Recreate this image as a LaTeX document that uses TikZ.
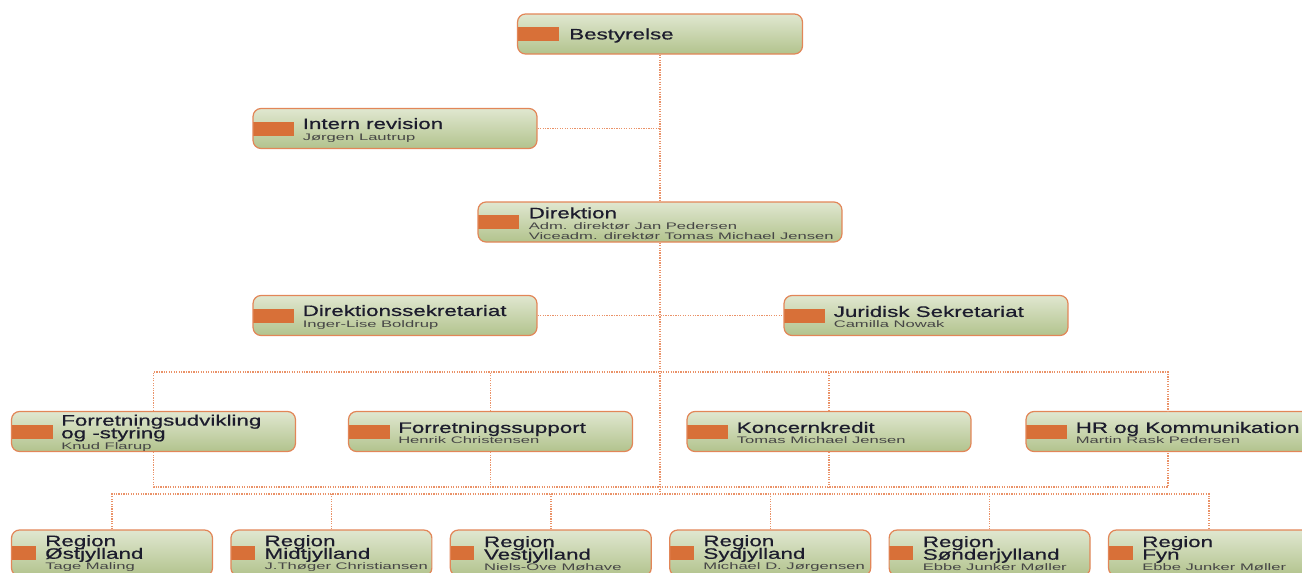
\documentclass[tikz,border=0pt]{standalone}
\usepackage{fontspec}
\newfontfamily\orgtitlefont[FakeStretch=1.48,FakeBold=0.6]{Liberation Sans}
\newfontfamily\orgsubfont[FakeStretch=1.75]{Liberation Sans}
\definecolor{orgborder}{RGB}{226,134,88}
\definecolor{boxtop}{RGB}{224,231,208}
\definecolor{boxbottom}{RGB}{178,195,141}
\definecolor{orgorange}{RGB}{216,112,56}
\definecolor{orgdot}{RGB}{234,146,104}
\definecolor{titleink}{RGB}{28,28,45}
\definecolor{subink}{RGB}{70,70,70}
\newcommand\orgtitlesize{\orgtitlefont\fontsize{8.6}{5.8}\selectfont\lineskiplimit-10pt\relax}
\newcommand\orgsub[1]{{\orgsubfont\fontsize{5.4}{5.8}\selectfont\color{subink}#1}}
\begin{document}
\begin{tikzpicture}[x=0.02cm, y=-0.02cm,
    orgbox/.style={draw=orgborder, line width=0.7pt, rounded corners=0.16cm,
      top color=boxtop, bottom color=boxbottom, minimum height=0.8cm, inner sep=0pt,
      path picture={\fill[orgorange, sharp corners] ([yshift=0.14cm]path picture bounding box.west) rectangle ++(#1,14);}},
    orgbox/.default=41,
    orgtext/.style={anchor=west, inner sep=0pt, align=left, text=titleink, font=\orgtitlesize, yshift=-0.03cm},
    orgline/.style={orgdot, line width=0.8pt, dash pattern=on 0.7pt off 0.7pt}]
    \useasboundingbox (0,0) rectangle (1302,572);

    % top of the tree
    \node[orgbox, minimum width=5.7cm] (best) at (660,34) {};
    \node[orgtext] (best-txt) at ([xshift=1.04cm]best.west) {Bestyrelse};
    \node[orgbox, minimum width=5.68cm] (intern) at (395,128.5) {};
    \node[orgtext] (intern-txt) at ([xshift=1cm]intern.west) {Intern revision\\[0.5pt]\orgsub{Jørgen Lautrup}};
    \node[orgbox, minimum width=7.28cm] (dir) at (660,222) {};
    \node[orgtext] (dir-txt) at ([xshift=1.02cm]dir.west) {Direktion\\[0.5pt]\orgsub{Adm. direktør Jan Pedersen}\\\orgsub{Viceadm. direktør Tomas Michael Jensen}};
    \node[orgbox, minimum width=5.68cm] (dsek) at (395,315.5) {};
    \node[orgtext] (dsek-txt) at ([xshift=1cm]dsek.west) {Direktionssekretariat\\[0.5pt]\orgsub{Inger-Lise Boldrup}};
    \node[orgbox, minimum width=5.68cm] (jur) at (926,315.5) {};
    \node[orgtext] (jur-txt) at ([xshift=1cm]jur.west) {Juridisk Sekretariat\\[0.5pt]\orgsub{Camilla Nowak}};

    % staff units
    \node[orgbox, minimum width=5.68cm] (fu) at (153.5,431.5) {};
    \node[orgtext] (fu-txt) at ([xshift=1cm]fu.west) {Forretningsudvikling\\[1.4pt]og -styring\\[0.5pt]\orgsub{Knud Flarup}};
    \node[orgbox, minimum width=5.68cm] (fs) at (490.5,431.5) {};
    \node[orgtext] (fs-txt) at ([xshift=1cm]fs.west) {Forretningssupport\\[0.5pt]\orgsub{Henrik Christensen}};
    \node[orgbox, minimum width=5.68cm] (kk) at (829,431.5) {};
    \node[orgtext] (kk-txt) at ([xshift=1cm]kk.west) {Koncernkredit\\[0.5pt]\orgsub{Tomas Michael Jensen}};
    \node[orgbox, minimum width=5.68cm] (hr) at (1168,431.5) {};
    \node[orgtext] (hr-txt) at ([xshift=1cm]hr.west) {HR og Kommunikation\\[0.5pt]\orgsub{Martin Rask Pedersen}};

    % regions
    \foreach \i/\reg/\chief in {1/Østjylland/Tage Maling, 2/Midtjylland/J.Thøger Christiansen,
        3/Vestjylland/Niels-Ove Møhave, 4/Sydjylland/Michael D. Jørgensen,
        5/Sønderjylland/Ebbe Junker Møller, 6/Fyn/Ebbe Junker Møller} {
      \node[orgbox=24, minimum width=4.02cm, minimum height=0.92cm] (r\i) at ({112+219.4*(\i-1)},553) {};
      \node[orgtext] (r\i-txt) at ([xshift=0.68cm,yshift=0.02cm]r\i.west) {Region\\[1.4pt]\reg\\[0.5pt]\orgsub{\chief}};
    }

    % connectors
    \coordinate (bustop) at (660,372);
    \coordinate (busmid) at (660,487);
    \coordinate (busbot) at (660,494);
    \draw[orgline] (best.south) -- (dir.north);
    \draw[orgline] (intern.east) -- (intern.east -| best.south);
    \draw[orgline] (dsek.east) -- (jur.west);
    \draw[orgline] (dir.south) -- (busbot);
    \draw[orgline] (fu.north) |- (bustop) -| (hr.north);
    \draw[orgline] (fu.south) |- (busmid) -| (hr.south);
    \foreach \n in {fs,kk} {
      \draw[orgline] (\n.north) -- (\n.north |- bustop);
      \draw[orgline] (\n.south) -- (\n.south |- busmid);
    }
    \draw[orgline] (r1.north) |- (busbot) -| (r6.north);
    \foreach \i in {2,...,5}
      \draw[orgline] (r\i.north) -- (r\i.north |- busbot);
  \end{tikzpicture}
\end{document}
